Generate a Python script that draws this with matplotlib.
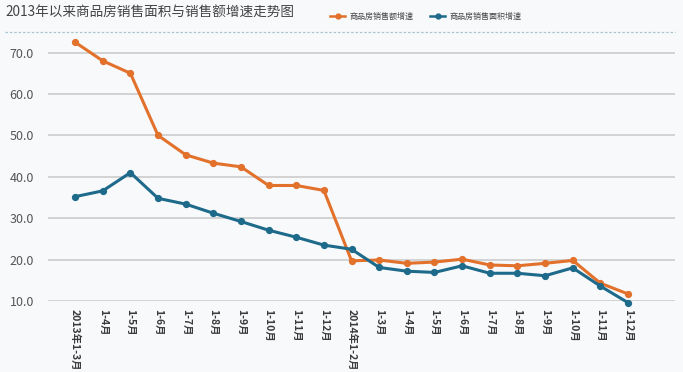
import matplotlib
matplotlib.use("Agg")
import matplotlib.pyplot as plt
from matplotlib.lines import Line2D

plt.rcParams['font.family'] = ['Noto Sans CJK SC', 'DejaVu Sans']

categories = ["2013年1-3月", "1-4月", "1-5月", "1-6月", "1-7月", "1-8月", "1-9月",
              "1-10月", "1-11月", "1-12月", "2014年1-2月", "1-3月", "1-4月", "1-5月",
              "1-6月", "1-7月", "1-8月", "1-9月", "1-10月", "1-11月", "1-12月"]
amount_growth = [72.5, 68.0, 65.0, 50.0, 45.3, 43.3, 42.4, 37.9, 37.9, 36.7, 19.7,
                 19.9, 19.1, 19.4, 20.1, 18.7, 18.5, 19.1, 19.8, 14.3, 11.7]
area_growth = [35.2, 36.6, 41.0, 34.8, 33.4, 31.2, 29.2, 27.1, 25.4, 23.5, 22.5,
               18.1, 17.2, 16.9, 18.5, 16.7, 16.7, 16.1, 18.0, 13.6, 9.6]
yticks = [10, 20, 30, 40, 50, 60, 70]
title = "2013年以来商品房销售面积与销售额增速走势图"
series_names = ["商品房销售额增速", "商品房销售面积增速"]

orange = "#E2712B"
blue = "#1E6A8A"
bg = "#F7F9FB"

W, H = 683, 372
fig = plt.figure(figsize=(W / 100, H / 100), dpi=100, facecolor=bg)
ax = fig.add_axes([48 / W, 1 - 301 / H, (675 - 48) / W, (301 - 36) / H], facecolor=bg)

x = list(range(len(categories)))
ax.plot(x, amount_growth, color=orange, lw=2.2, marker='o', ms=4.2, zorder=3, clip_on=False)
ax.plot(x, area_growth, color=blue, lw=2.2, marker='o', ms=4.2, zorder=3, clip_on=False)

ax.set_xlim(-0.98, 21.7)
ax.set_ylim(10, 74)
ax.set_yticks(yticks)
ax.set_yticklabels([f"{v:.1f}" for v in yticks], fontsize=9, color="#555555")
ax.yaxis.grid(True, color="#D0D0D0", lw=1.3)
ax.set_axisbelow(True)
ax.tick_params(axis='y', length=0, pad=10)
ax.tick_params(axis='x', length=0, pad=6)
ax.set_xticks(x)
ax.set_xticklabels(categories, rotation=-90, fontsize=7.5, color="#3A3A3A",
                   fontweight='bold', va='top', ha='center')
for s in ax.spines.values():
    s.set_visible(False)

fig.text(5 / W, 1 - 13 / H, title, fontsize=9.8, color="#444444", va='center', ha='left')

# separator line under title
fig.add_artist(Line2D([5 / W, 675 / W], [1 - 32 / H, 1 - 32 / H], color="#A9C4CF",
                      lw=0.9, ls=(0, (2, 1.5)), transform=fig.transFigure))

# legend
ly = 1 - 16 / H
for (x0, col, name) in [(330, orange, series_names[0]), (430, blue, series_names[1])]:
    fig.add_artist(Line2D([x0 / W, (x0 + 15) / W], [ly, ly], color=col, lw=1.8,
                          transform=fig.transFigure))
    fig.add_artist(Line2D([(x0 + 7.5) / W], [ly], color=col, marker='o', ms=3.5,
                          transform=fig.transFigure))
    fig.text((x0 + 20) / W, ly, name, fontsize=5.8, color="#444444", va='center', ha='left')

fig.savefig("out.png", dpi=100, facecolor=bg)
